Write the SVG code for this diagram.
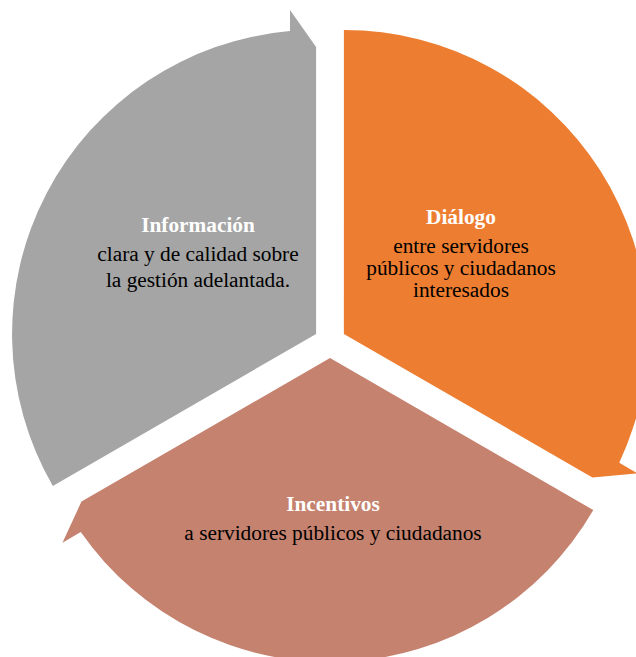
<svg xmlns="http://www.w3.org/2000/svg" width="636" height="657" viewBox="0 0 636 657">
  <defs>
    <path id="seg" d="M -13.9 -8 L -13.9 -295 L -40 -332 L -40 -310.9 A 304 304 0 0 0 -277.2 144 Z"/>
  </defs>
  <style>
    text { font-family: "Liberation Serif", "Times New Roman", serif; font-size: 21.33px; text-anchor: middle; }
    .h { font-weight: bold; fill: #FFFFFF; }
    .b { fill: #000000; }
  </style>
  <rect width="636" height="657" fill="#FFFFFF"/>
  <g id="connectors"></g>
  <g id="informacion">
    <use href="#seg" transform="translate(330 342)" fill="#A5A5A5"/>
    <text class="h" x="198" y="232">Información</text>
    <text class="b" x="198" y="261">clara y de calidad sobre</text>
    <text class="b" x="198" y="287">la gestión adelantada.</text>
  </g>
  <g id="dialogo">
    <use href="#seg" transform="translate(330 342) rotate(120)" fill="#ED7D31"/>
    <text class="h" x="461" y="224">Diálogo</text>
    <text class="b" x="461" y="253">entre servidores</text>
    <text class="b" x="461" y="275">públicos y ciudadanos</text>
    <text class="b" x="461" y="297">interesados</text>
  </g>
  <g id="incentivos">
    <use href="#seg" transform="translate(330 342) rotate(240)" fill="#C5826F"/>
    <text class="h" x="333" y="511">Incentivos</text>
    <text class="b" x="333" y="540">a servidores públicos y ciudadanos</text>
  </g>
</svg>
